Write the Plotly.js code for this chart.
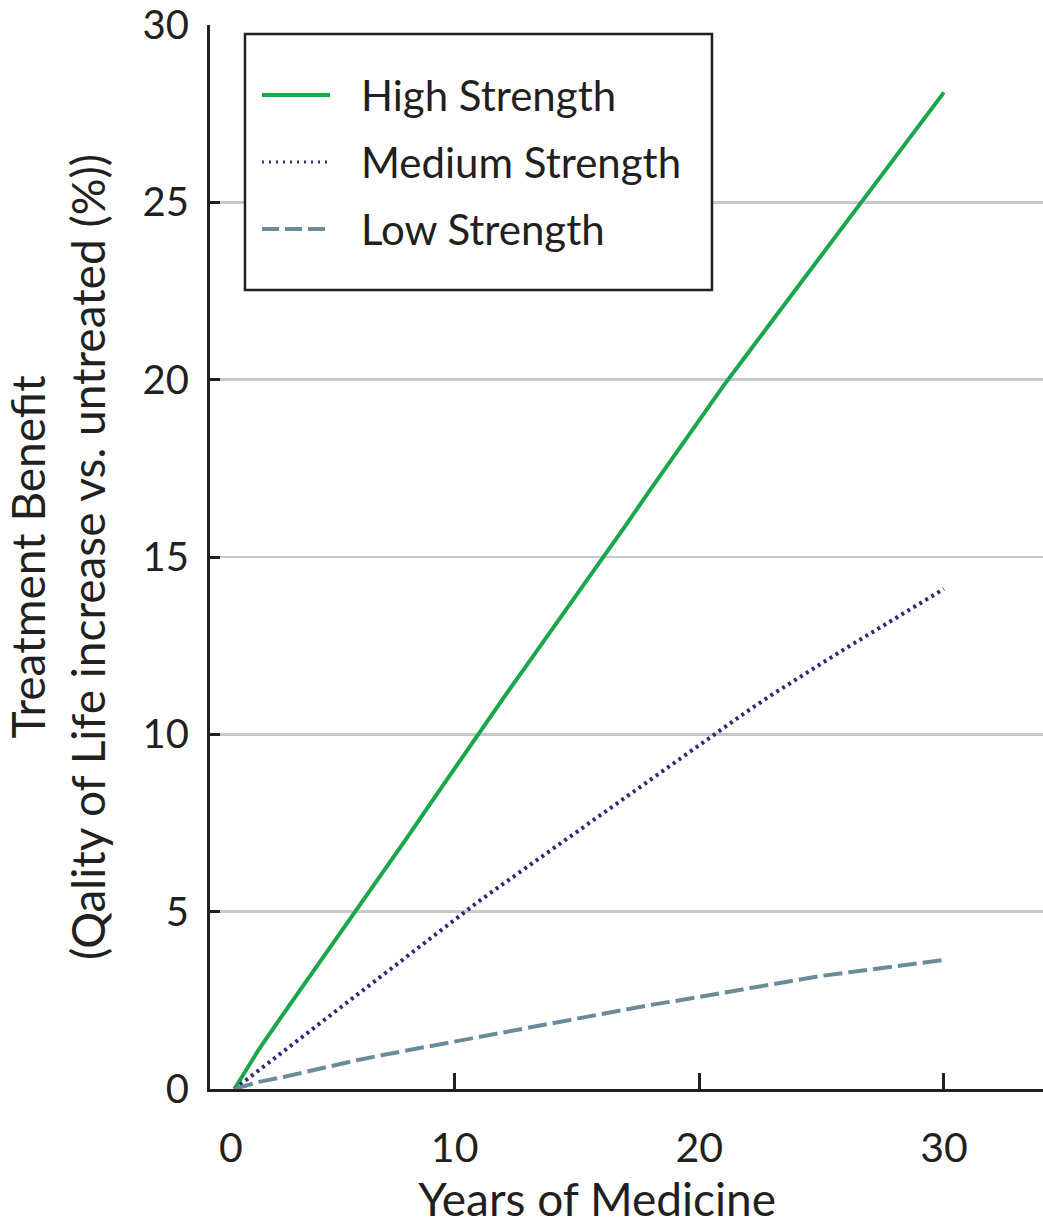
<!DOCTYPE html>
<html>
<head>
<meta charset="utf-8">
<script src="https://cdn.plot.ly/plotly-3.0.1.min.js"></script>
<style>
  html, body { margin: 0; padding: 0; background: #ffffff; }
  #chart { width: 1043px; height: 1231px; }
</style>
</head>
<body>
<div id="chart"></div>
<script>
// Years on treatment
const years = [1, 2, 3, 4, 5, 6, 7, 8, 9, 10, 11, 12, 13, 14, 15,
               16, 17, 18, 19, 20, 21, 22, 23, 24, 25, 26, 27, 28, 29, 30];

// Treatment benefit (% quality-of-life increase vs. untreated)
const highStrength = [0, 1.12, 2.12, 3.1, 4.08, 5.05, 6.02, 7.03, 8.04, 9.05,
                      10.05, 11.03, 12.0, 12.97, 13.95, 14.95, 15.9, 16.9, 17.88, 18.86,
                      19.84, 20.76, 21.68, 22.59, 23.51, 24.43, 25.35, 26.26, 27.18, 28.1];
const mediumStrength = [0, 0.53, 1.07, 1.6, 2.13, 2.67, 3.2, 3.73, 4.27, 4.8,
                        5.3, 5.79, 6.28, 6.77, 7.26, 7.75, 8.24, 8.73, 9.22, 9.71,
                        10.2, 10.67, 11.13, 11.58, 12.0, 12.43, 12.85, 13.28, 13.7, 14.1];
const lowStrength = [0, 0.2, 0.34, 0.5, 0.66, 0.81, 0.95, 1.08, 1.21, 1.33,
                     1.47, 1.6, 1.73, 1.86, 1.98, 2.11, 2.24, 2.37, 2.48, 2.6,
                     2.72, 2.85, 2.97, 3.08, 3.19, 3.28, 3.37, 3.46, 3.55, 3.64];

const seriesNames = ["High Strength", "Medium Strength", "Low Strength"];
const seriesColors = ["#1aa64a", "#2e2a78", "#6a8c9a"];

const xTickVals = [0.85, 10, 20, 30];
const xTickText = ["0", "10", "20", "30"];
const xTickMarks = [10, 20, 30];
const yTickVals = [0, 5, 10, 15, 20, 25, 30];

const FONT = "Lato, 'Open Sans', sans-serif";
const INK = "#231f20";

const lineWidths = [4, 4, 4];
const lineDashes = ["solid", "3px,4px", "19px,6px"];

const traces = [highStrength, mediumStrength, lowStrength].map((vals, i) => ({
  x: years, y: vals, name: seriesNames[i], mode: "lines",
  line: { color: seriesColors[i], width: lineWidths[i], dash: lineDashes[i] },
  showlegend: false, hoverinfo: "skip"
}));

// Boxed key in the upper left of the plot
const keyBox = { x0: 0.042, x1: 0.6026, y0: 0.7509, y1: 0.9915 };
const keyRows = [0.9342, 0.8712, 0.8083];
const keySample = { x0: 0.0624, x1: 0.1441 };
const keyTextX = 0.1789;
const keyDash = ["solid", "2px,5px", "17px,6px"];
const keyWidth = [4, 3, 4];

const shapes = [
  { type: "rect", xref: "paper", yref: "paper",
    x0: keyBox.x0, x1: keyBox.x1, y0: keyBox.y0, y1: keyBox.y1,
    line: { color: INK, width: 2.5 }, fillcolor: "#ffffff", layer: "above" }
];
const annotations = [];
seriesNames.forEach((name, i) => {
  shapes.push({ type: "line", xref: "paper", yref: "paper",
    x0: keySample.x0, x1: keySample.x1, y0: keyRows[i], y1: keyRows[i],
    line: { color: seriesColors[i], width: keyWidth[i], dash: keyDash[i] }, layer: "above" });
  annotations.push({ xref: "paper", yref: "paper", x: keyTextX, y: keyRows[i],
    xanchor: "left", yanchor: "middle", showarrow: false, text: name,
    font: { family: FONT, size: 42, color: INK } });
});

const layout = {
  width: 1043, height: 1231,
  margin: { l: 210, r: 0, t: 25, b: 142, pad: 0 },
  paper_bgcolor: "#ffffff", plot_bgcolor: "#ffffff",
  font: { family: FONT, color: INK },
  showlegend: false,
  xaxis: {
    range: [0, 34.05], showgrid: false, zeroline: false,
    showline: true, linecolor: INK, linewidth: 3,
    tickmode: "array", tickvals: xTickVals, ticktext: xTickText, ticks: "",
    ticklabelstandoff: 21,
    tickfont: { family: FONT, size: 41, color: INK },
    minor: { tickmode: "array", tickvals: xTickMarks, ticks: "inside",
             ticklen: 16, tickwidth: 3, tickcolor: INK, showgrid: false },
    title: { text: "Years of Medicine&nbsp;&nbsp;&nbsp;&nbsp;&nbsp;",
             font: { family: FONT, size: 46, color: INK }, standoff: 6 }
  },
  yaxis: {
    range: [0, 30], zeroline: false,
    showgrid: true, gridcolor: "#c8c8c8", gridwidth: 2.5,
    showline: true, linecolor: INK, linewidth: 3,
    tickmode: "array", tickvals: yTickVals, ticks: "inside", ticklen: 10, tickwidth: 3, tickcolor: INK,
    ticklabelstandoff: 10,
    tickfont: { family: FONT, size: 40, color: INK },
    title: { text: "Treatment Benefit<br>(Qality of Life increase vs. untreated (%))",
             font: { family: FONT, size: 46, color: INK }, standoff: 45 }
  },
  shapes: shapes,
  annotations: annotations
};

Plotly.newPlot("chart", traces, layout, { staticPlot: true, displayModeBar: false });
</script>
</body>
</html>
